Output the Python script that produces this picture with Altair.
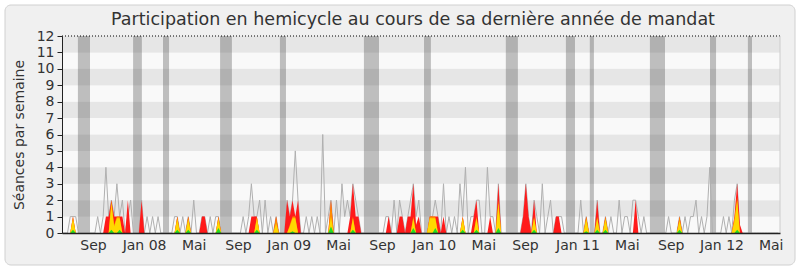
import altair as alt
import pandas as pd

title_text = "Participation en hemicycle au cours de sa dernière année de mandat"
y_title = "Séances par semaine"

# weekly values (one value per week)
seances = [
    0, 0, 0, 1, 1, 1, 0, 0, 0, 0,
    0, 0, 0, 1, 0, 1, 4, 1, 2, 1,
    3, 1, 2, 0, 1, 2, 0, 0, 0, 2,
    0, 1, 0, 1, 0, 1, 0, 0, 0, 0,
    0, 1, 1, 0, 1, 0, 1, 0, 2, 0,
    0, 1, 1, 0, 1, 0, 1, 1, 0, 0,
    0, 0, 0, 0, 0, 0, 1, 0, 1, 3,
    1, 1, 2, 0, 2, 0, 1, 0, 1, 0,
    0, 0, 2, 1, 2, 5, 2, 0, 0, 1,
    0, 1, 0, 1, 0, 6, 0, 1, 2, 0,
    2, 0, 3, 1, 2, 1, 3, 2, 1, 0,
    0, 0, 0, 0, 0, 0, 0, 0, 1, 1,
    0, 2, 0, 2, 1, 0, 1, 2, 3, 1,
    2, 0, 0, 0, 1, 1, 2, 1, 0, 3,
    0, 1, 0, 1, 0, 3, 1, 4, 0, 1,
    1, 2, 2, 0, 0, 4, 1, 1, 0, 3,
    0, 0, 0, 0, 0, 0, 0, 0, 1, 3,
    1, 0, 2, 1, 0, 3, 0, 1, 2, 0,
    1, 1, 1, 0, 0, 0, 0, 0, 0, 2,
    0, 1, 0, 0, 0, 2, 0, 0, 1, 0,
    1, 0, 0, 2, 0, 1, 1, 0, 2, 2,
    1, 0, 1, 0, 0, 0, 0, 0, 0, 0,
    0, 1, 0, 0, 0, 1, 0, 1, 0, 1,
    1, 2, 0, 1, 0, 1, 4, 0, 0, 0,
    0, 1, 0, 1, 0, 2, 3, 0, 0, 0,
    0, 0, 0, 0, 0, 0, 0, 0, 0, 0,
    0, 0,
]

presences = [
    0, 0, 0, 0, 1, 0, 0, 0, 0, 0,
    0, 0, 0, 0, 0, 0, 1, 1, 2, 1,
    1, 1, 1, 0, 2, 0, 0, 0, 0, 2,
    0, 0, 0, 0, 0, 0, 0, 0, 0, 0,
    0, 0, 1, 0, 0, 0, 1, 0, 0, 0,
    0, 1, 1, 0, 0, 0, 0, 1, 0, 0,
    0, 0, 0, 0, 0, 0, 0, 0, 0, 1,
    1, 1, 0, 0, 0, 0, 0, 0, 1, 0,
    0, 0, 2, 1, 2, 1, 2, 0, 0, 0,
    0, 0, 0, 0, 0, 0, 0, 0, 2, 0,
    0, 0, 0, 0, 0, 1, 3, 1, 1, 0,
    0, 0, 0, 0, 0, 0, 0, 0, 0, 1,
    0, 0, 0, 1, 1, 0, 1, 1, 3, 0.5,
    1, 0, 0, 0, 1, 1, 1, 1, 0, 1,
    0, 0, 0, 0, 0, 0, 1, 0, 0, 0,
    1, 2, 0, 0, 0, 0, 1, 0, 0, 3,
    0, 0, 0, 0, 0, 0, 0, 0, 1, 3,
    1, 0, 2, 0, 0, 0, 0, 0, 0, 0,
    1, 1, 0, 0, 0, 0, 0, 0, 0, 0,
    0, 1, 0, 0, 0, 2, 0, 0, 1, 0,
    0, 0, 0, 0, 0, 0, 0, 0, 0, 2,
    0, 0, 0, 0, 0, 0, 0, 0, 0, 0,
    0, 0, 0, 0, 0, 1, 0, 0, 0, 0,
    0, 0, 0, 0, 0, 0, 0, 0, 0, 0,
    0, 0, 0, 0, 0, 1, 3, 0.5, 0, 0,
    0, 0, 0, 0, 0, 0, 0, 0, 0, 0,
    0, 0,
]

interventions_longues = [
    0, 0, 0, 0, 1, 0, 0, 0, 0, 0,
    0, 0, 0, 0, 0, 0, 0, 0, 2, 0.5,
    1, 1, 0, 0, 0, 0, 0, 0, 0, 0,
    0, 0, 0, 0, 0, 0, 0, 0, 0, 0,
    0, 0, 1, 0, 0, 0, 1, 0, 0, 0,
    0, 0, 0, 0, 0, 0, 0, 1, 0, 0,
    0, 0, 0, 0, 0, 0, 0, 0, 0, 0,
    0, 1, 0, 0, 0, 0, 0, 0, 1, 0,
    0, 0, 0, 0.5, 1, 1, 0, 0, 0, 0,
    0, 0, 0, 0, 0, 0, 0, 0, 2, 0,
    0, 0, 0, 0, 0, 0, 1, 0, 0, 0,
    0, 0, 0, 0, 0, 0, 0, 0, 0, 0,
    0, 0, 0, 0, 0, 0, 0, 0, 1, 0,
    0, 0, 0, 0, 1, 1, 1, 0, 0, 0,
    0, 0, 0, 0, 0, 0, 1, 0, 0, 0,
    0, 1, 0, 0, 0, 0, 0, 0, 0, 2,
    0, 0, 0, 0, 0, 0, 0, 0, 0, 0,
    0, 0, 1, 0, 0, 0, 0, 0, 0, 0,
    0, 0, 0, 0, 0, 0, 0, 0, 0, 0,
    0, 1, 0, 0, 0, 1, 0, 0, 1, 0,
    0, 0, 0, 0, 0, 0, 0, 0, 0, 0,
    0, 0, 0, 0, 0, 0, 0, 0, 0, 0,
    0, 0, 0, 0, 0, 1, 0, 0, 0, 0,
    0, 0, 0, 0, 0, 0, 0, 0, 0, 0,
    0, 0, 0, 0, 0, 0.9, 2.2, 0, 0, 0,
    0, 0, 0, 0, 0, 0, 0, 0, 0, 0,
    0, 0,
]

interventions = [
    0, 0, 0, 0, 0.85, 0, 0, 0, 0, 0,
    0, 0, 0, 0, 0, 0, 0, 0, 1.8, 0.4,
    0.9, 0.9, 0, 0, 0, 0, 0, 0, 0, 0,
    0, 0, 0, 0, 0, 0, 0, 0, 0, 0,
    0, 0, 0.85, 0, 0, 0, 0.85, 0, 0, 0,
    0, 0, 0, 0, 0, 0, 0, 0.85, 0, 0,
    0, 0, 0, 0, 0, 0, 0, 0, 0, 0,
    0, 0.9, 0, 0, 0, 0, 0, 0, 0.6, 0,
    0, 0, 0, 0.4, 0.9, 0.9, 0, 0, 0, 0,
    0, 0, 0, 0, 0, 0, 0, 0, 1, 0,
    0, 0, 0, 0, 0, 0, 0.9, 0, 0, 0,
    0, 0, 0, 0, 0, 0, 0, 0, 0, 0,
    0, 0, 0, 0, 0, 0, 0, 0, 0.9, 0,
    0, 0, 0, 0, 0.9, 0.9, 0.9, 0, 0, 0,
    0, 0, 0, 0, 0, 0, 0.85, 0, 0, 0,
    0, 0.9, 0, 0, 0, 0, 0, 0, 0, 1.8,
    0, 0, 0, 0, 0, 0, 0, 0, 0, 0,
    0, 0, 0.9, 0, 0, 0, 0, 0, 0, 0,
    0, 0, 0, 0, 0, 0, 0, 0, 0, 0,
    0, 0.85, 0, 0, 0, 0.9, 0, 0, 0.85, 0,
    0, 0, 0, 0, 0, 0, 0, 0, 0, 0,
    0, 0, 0, 0, 0, 0, 0, 0, 0, 0,
    0, 0, 0, 0, 0, 0.75, 0, 0, 0, 0,
    0, 0, 0, 0, 0, 0, 0, 0, 0, 0,
    0, 0, 0, 0, 0, 0.7, 2, 0, 0, 0,
    0, 0, 0, 0, 0, 0, 0, 0, 0, 0,
    0, 0,
]

questions = [
    0, 0, 0, 0, 0.2, 0, 0, 0, 0, 0,
    0, 0, 0, 0, 0, 0, 0, 0, 0.2, 0,
    0, 0.2, 0, 0, 0, 0, 0, 0, 0, 0,
    0, 0, 0, 0, 0, 0, 0, 0, 0, 0,
    0, 0, 0.2, 0, 0, 0, 0.2, 0, 0, 0,
    0, 0, 0, 0, 0, 0, 0, 0.3, 0, 0,
    0, 0, 0, 0, 0, 0, 0, 0, 0, 0,
    0, 0.2, 0, 0, 0, 0, 0, 0, 0, 0,
    0, 0, 0, 0, 0.1, 0, 0, 0, 0, 0,
    0, 0, 0, 0, 0, 0, 0, 0, 0.4, 0,
    0, 0, 0, 0, 0, 0, 0.2, 0, 0, 0,
    0, 0, 0, 0, 0, 0, 0, 0, 0, 0,
    0, 0, 0, 0, 0, 0, 0, 0, 0.3, 0,
    0, 0, 0, 0, 0, 0, 0.3, 0, 0, 0,
    0, 0, 0, 0, 0, 0, 0.2, 0, 0, 0,
    0, 0.2, 0, 0, 0, 0, 0, 0, 0, 0.3,
    0, 0, 0, 0, 0, 0, 0, 0, 0, 0,
    0, 0, 0.2, 0, 0, 0, 0, 0, 0, 0,
    0, 0, 0, 0, 0, 0, 0, 0, 0, 0,
    0, 0.1, 0, 0, 0, 0.2, 0, 0, 0.2, 0,
    0, 0, 0, 0, 0, 0, 0, 0, 0, 0,
    0, 0, 0, 0, 0, 0, 0, 0, 0, 0,
    0, 0, 0, 0, 0, 0.2, 0, 0, 0, 0,
    0, 0, 0, 0, 0, 0, 0, 0, 0, 0,
    0, 0, 0, 0, 0, 0, 0.2, 0, 0, 0,
    0, 0, 0, 0, 0, 0, 0, 0, 0, 0,
    0, 0,
]

# parliamentary breaks (in weeks)
vacances_debut = [5.8, 25.9, 36.8, 57.6, 79.4, 110.0, 131.9, 161.7, 183.6, 192.3, 214.2, 236.1, 249.9]
vacances_fin = [10.2, 29.1, 39.0, 61.9, 81.6, 115.5, 134.4, 166.1, 186.9, 193.8, 219.7, 238.3, 251.4]

tick_weeks = [11.3, 29.9, 48.0, 64.1, 82.6, 100.6, 116.6, 135.4, 153.5, 168.7, 187.8, 205.8, 221.8, 240.3, 258.2]
tick_labels = ["Sep", "Jan 08", "Mai", "Sep", "Jan 09", "Mai", "Sep", "Jan 10", "Mai",
               "Sep", "Jan 11", "Mai", "Sep", "Jan 12", "Mai"]

x_max = 261.6
y_levels = list(range(13))

n = len(seances)
df = pd.DataFrame({
    "semaine": list(range(n)),
    "seances": seances,
    "presences": presences,
    "longues": interventions_longues,
    "interventions": interventions,
    "questions": questions,
})
bands = pd.DataFrame({"debut": vacances_debut, "fin": vacances_fin})
stripes = pd.DataFrame({
    "lo": y_levels[:-1],
    "hi": y_levels[1:],
    "shade": ["#f9f9f9" if i % 2 == 0 else "#e6e6e6" for i in y_levels[:-1]],
})

label_expr = "[" + ",".join("'%s'" % t for t in tick_labels) + "][indexof([" + \
    ",".join(str(v) for v in tick_weeks) + "], datum.value)]"

FONT = "DejaVu Sans"
xs = alt.Scale(domain=[0, x_max], nice=False, zero=False)
ys = alt.Scale(domain=[0, 12], nice=False, zero=True)
xax = alt.Axis(values=tick_weeks, labelExpr=label_expr, ticks=False, grid=False,
               domainColor="#222222", domainWidth=1.5, labelFont=FONT, labelFontSize=14,
               labelColor="#333333", labelPadding=5, labelFlush=False, labelOverlap=False,
               labelBound=False, title=None, zindex=1)
yax = alt.Axis(values=y_levels, tickCount=13, grid=False, tickSize=5, tickColor="#222222",
               domainColor="#222222", labelFont=FONT, labelFontSize=14, labelColor="#333333",
               labelPadding=3, labelOverlap=False, labelFlush=False, labelBound=False,
               title=y_title, titleFont=FONT, titleFontSize=14,
               titleFontWeight="normal", titleColor="#333333", titlePadding=10, zindex=1)


def X(f):
    return alt.X(f, type="quantitative", scale=xs, axis=xax)


def Y(f):
    return alt.Y(f, type="quantitative", scale=ys, axis=yax)


frame = alt.Chart(alt.Data(values=[{}])).mark_rect(
    fill="#f0f0f0", stroke="#d0d0d0", strokeWidth=1, cornerRadius=6
).encode(x=alt.value(-57), x2=alt.value(733), y=alt.value(-31), y2=alt.value(229))

stripe_layer = alt.Chart(stripes).mark_rect().encode(
    x=alt.datum(0, scale=xs), x2=alt.datum(x_max), y=Y("lo"), y2="hi:Q",
    color=alt.Color("shade:N", scale=None),
)

band_layer = alt.Chart(bands).mark_rect(color="#262626", opacity=0.28).encode(
    x=X("debut"), x2="fin:Q", y=Y("lo_b"), y2="hi_b:Q"
).transform_calculate(lo_b="0", hi_b="12")

base = alt.Chart(df)
gray_line = base.mark_line(color="#b0b0b0", strokeWidth=1).encode(x=X("semaine"), y=Y("seances"))
red_area = base.mark_area(color="#ff1a1a").encode(x=X("semaine"), y=Y("presences"))
orange_area = base.mark_area(color="#ff8c00").encode(x=X("semaine"), y=Y("longues"))
yellow_area = base.mark_area(color="#ffd800").encode(x=X("semaine"), y=Y("interventions"))
green_area = base.mark_area(color="#22dd22").encode(x=X("semaine"), y=Y("questions"))

top_rule = alt.Chart(alt.Data(values=[{"top": 12}])).mark_rule(
    color="#000000", strokeDash=[1, 2], strokeWidth=1
).encode(y=Y("top"))
right_rule = alt.Chart(alt.Data(values=[{"edge": x_max}])).mark_rule(color="#cccccc").encode(
    x=X("edge"))

chart = alt.layer(
    frame, stripe_layer, band_layer, gray_line, red_area, orange_area, yellow_area,
    green_area, top_rule, right_rule
).properties(
    width=718, height=197,
    title=alt.TitleParams(title_text, font=FONT, fontSize=17.5, fontWeight="normal",
                          color="#333333", anchor="middle", frame="group", offset=-24, dx=-8),
    autosize=alt.AutoSizeParams(type="none"),
    padding={"left": 62, "top": 36, "right": 20, "bottom": 34},
).configure(background="#ffffff", font=FONT).configure_view(stroke=None).configure_axisY(
    labelOverlap=False
)

chart.save("out.html", embed_options={"renderer": "svg", "actions": False})
